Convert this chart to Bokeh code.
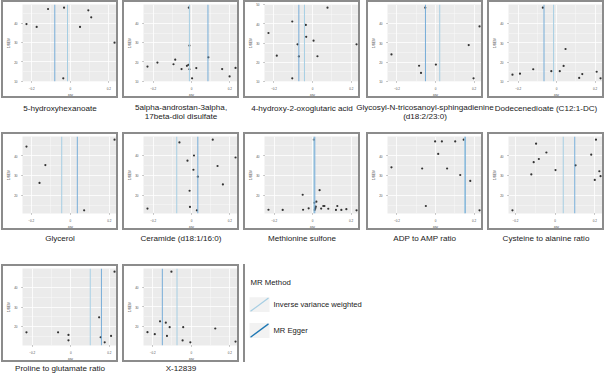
from bokeh.plotting import figure
from bokeh.layouts import column, row
from bokeh.models import Range1d, Span, Label, Spacer
from bokeh.embed import file_html
from bokeh.resources import INLINE

# ---------------- data ----------------
panel_titles = [
    ["5-hydroxyhexanoate"],
    ["5alpha-androstan-3alpha,", "17beta-diol disulfate"],
    ["4-hydroxy-2-oxoglutaric acid"],
    ["Glycosyl-N-tricosanoyl-sphingadienine", "(d18:2/23:0)"],
    ["Dodecenedioate (C12:1-DC)"],
    ["Glycerol"],
    ["Ceramide (d18:1/16:0)"],
    ["Methionine sulfone"],
    ["ADP to AMP ratio"],
    ["Cysteine to alanine ratio"],
    ["Proline to glutamate ratio"],
    ["X-12839"],
]

ivw_est = [-0.014, -0.011, -0.042, 0.022, -0.016, -0.044, -0.077, 0.006, 0.152, 0.041, 0.101, -0.074]
egger_est = [-0.080, 0.086, -0.071, -0.052, -0.066, 0.036, 0.033, 0.011, 0.154, 0.099, 0.159, -0.150]

beta_1 = [-0.227, -0.174, -0.115, -0.032, 0.094, 0.109, 0.051, 0.230, -0.036]
invse_1 = [39.7, 38.2, 47.5, 48.2, 46.8, 43.2, 38.2, 30.0, 11.5]

beta_2 = [-0.014, -0.011, 0.088, -0.085, -0.178, -0.230, -0.094, -0.052, -0.024, -0.016, -0.011, 0.025, 0.003, 0.160, 0.199, 0.230]
invse_2 = [48.2, 28.5, 22.4, 21.2, 19.7, 17.6, 18.8, 16.3, 18.0, 18.5, 16.2, 16.8, 11.5, 16.3, 12.5, 16.9]

beta_3 = [0.077, -0.105, -0.035, -0.228, -0.033, 0.005, -0.078, 0.227, -0.185, -0.071, 0.025, -0.105]
invse_3 = [48.4, 41.2, 39.4, 35.2, 33.2, 31.2, 29.3, 29.3, 23.4, 23.0, 23.1, 11.6]

beta_4 = [-0.053, 0.228, 0.172, -0.228, -0.085, 0.002, -0.075, 0.197]
invse_4 = [48.2, 38.5, 28.8, 24.0, 18.1, 18.7, 14.4, 11.6]

beta_5 = [-0.072, 0.046, 0.036, -0.122, -0.028, 0.016, -0.191, -0.230, 0.133, 0.208, 0.117, 0.228]
invse_5 = [48.2, 26.8, 18.0, 16.3, 15.3, 15.3, 14.0, 13.5, 13.8, 15.0, 11.8, 11.6]

beta_6 = [-0.225, -0.128, -0.158, 0.227, 0.071]
invse_6 = [44.7, 35.3, 26.2, 48.2, 12.3]

beta_7 = [-0.063, 0.111, 0.013, -0.021, 0.230, 0.136, 0.010, 0.033, 0.164, -0.010, -0.230, -0.008, 0.028]
invse_7 = [46.6, 48.0, 40.0, 37.4, 39.0, 34.7, 32.8, 29.3, 25.4, 22.2, 13.2, 14.0, 12.3]

beta_8 = [0.006, 0.036, -0.052, 0.019, 0.008, -0.230, -0.156, -0.050, -0.021, 0.014, 0.013, 0.010, 0.016, 0.044, 0.055, 0.061, 0.081, 0.128, 0.121, 0.149, 0.175, 0.228]
invse_8 = [48.2, 22.6, 20.3, 16.8, 16.2, 12.7, 12.6, 12.7, 13.4, 13.7, 13.2, 12.6, 14.3, 13.3, 14.6, 14.6, 13.2, 14.6, 12.6, 12.6, 13.0, 12.4]

beta_9 = [-0.002, 0.033, 0.102, 0.146, 0.014, -0.228, -0.069, 0.060, 0.128, 0.180, -0.050, 0.228]
invse_9 = [47.3, 47.3, 47.3, 48.2, 41.0, 34.2, 33.6, 33.6, 30.3, 27.3, 14.6, 12.4]

beta_10 = [0.206, -0.096, -0.044, 0.182, -0.082, -0.108, 0.002, 0.103, -0.120, 0.223, 0.229, 0.200, -0.215]
invse_10 = [48.2, 46.2, 41.7, 40.6, 38.4, 36.8, 32.8, 35.2, 30.6, 32.2, 29.7, 27.8, 12.4]

beta_11 = [0.227, 0.147, -0.230, -0.066, -0.012, -0.012, 0.155, 0.176, 0.209]
invse_11 = [48.1, 24.7, 17.0, 17.0, 15.7, 12.9, 14.5, 11.9, 15.2]

beta_12 = [-0.103, -0.162, -0.132, -0.112, -0.227, -0.189, -0.126, -0.042, -0.045, -0.005, 0.124, 0.229]
invse_12 = [48.1, 22.6, 21.9, 19.6, 17.0, 16.0, 15.1, 19.6, 12.8, 11.8, 18.9, 12.2]

betas = [beta_1, beta_2, beta_3, beta_4, beta_5, beta_6, beta_7, beta_8, beta_9, beta_10, beta_11, beta_12]
invses = [invse_1, invse_2, invse_3, invse_4, invse_5, invse_6, invse_7, invse_8, invse_9, invse_10, invse_11, invse_12]

legend_title = "MR Method"
methods = ["Inverse variance weighted", "MR Egger"]
method_colors = ["#a6cee3", "#1f78b4"]
panel_line_colors = ["#a6cee3", "#6aa6d6"]

# ---------------- styling ----------------
FONT = "Liberation Sans"
PW, PH = 117, 98
BOX = "2px solid #8c8c8c"


def make_panel(beta, invse, ivw, egger):
    xs = beta + [ivw, egger]
    x0, x1 = min(xs), max(xs)
    xp = 0.045 * (x1 - x0)
    y0, y1 = min(invse), max(invse)
    yp = 0.045 * (y1 - y0)
    p = figure(width=PW, height=PH, x_range=Range1d(x0 - xp, x1 + xp),
               y_range=Range1d(y0 - yp, y1 + yp),
               output_backend="svg", toolbar_location=None,
               min_border_left=1, min_border_right=2, min_border_top=2, min_border_bottom=0,
               background_fill_color="#ebebeb", border_fill_color="white",
               outline_line_color=None, styles={"border": BOX})
    p.xaxis.axis_label = "βIV"
    p.yaxis.axis_label = "1/SEIV"
    p.xaxis.ticker.desired_num_ticks = 3
    p.yaxis.ticker.desired_num_ticks = 4
    for ax in (p.xaxis[0], p.yaxis[0]):
        ax.ticker.num_minor_ticks = 2
        ax.axis_line_color = None
        ax.major_tick_in = 0
        ax.major_tick_out = 1
        ax.major_tick_line_color = "#333333"
        ax.major_tick_line_width = 0.5
        ax.minor_tick_line_color = None
        ax.major_label_text_font_size = "3px"
        ax.major_label_text_color = "#4d4d4d"
        ax.major_label_text_font = FONT
        ax.major_label_standoff = 1
        ax.axis_label_text_font_size = "3.2px"
        ax.axis_label_text_font = FONT
        ax.axis_label_text_font_style = "normal"
        ax.axis_label_text_color = "#1a1a1a"
        ax.axis_label_standoff = 1
    for g in (p.xgrid[0], p.ygrid[0]):
        g.grid_line_color = "white"
        g.grid_line_width = 0.7
        g.minor_grid_line_color = "white"
        g.minor_grid_line_width = 0.35
    p.add_layout(Span(location=ivw, dimension="height", line_color=panel_line_colors[0], line_width=1))
    p.add_layout(Span(location=egger, dimension="height", line_color=panel_line_colors[1], line_width=0.9))
    p.scatter(beta, invse, size=2.2, fill_color="#333333", line_color=None)
    return p


panels = [make_panel(betas[i], invses[i], ivw_est[i], egger_est[i]) for i in range(12)]

col_left = [1, 122, 243, 366, 487]
gaps = [4, 4, 6, 4]


def title_strip(idx_list, height, first_offset):
    t = figure(width=606, height=height, x_range=Range1d(0, 606), y_range=Range1d(height, 0),
               x_axis_type=None, y_axis_type=None, output_backend="svg", toolbar_location=None,
               min_border=0, outline_line_color=None, background_fill_color="white",
               border_fill_color="white")
    t.grid.visible = False
    for c, i in enumerate(idx_list):
        lines = panel_titles[i]
        cx = col_left[c] + PW / 2
        if len(lines) == 1:
            offs = [first_offset]
        else:
            offs = [first_offset - 1.5, first_offset + 7.5]
        for line, oy in zip(lines, offs):
            t.add_layout(Label(x=cx, y=oy, text=line, text_align="center", text_baseline="middle",
                               text_font=FONT, text_font_size="8.1px", text_color="#1a1a1a"))
    return t


def panel_row(figs):
    kids = [Spacer(width=1, height=PH)]
    for k, f in enumerate(figs):
        kids.append(f)
        if k < len(figs) - 1:
            kids.append(Spacer(width=gaps[k], height=PH))
    return row(kids, spacing=0)


# legend
leg = figure(width=363, height=PH, x_range=Range1d(0, 363), y_range=Range1d(PH, 0),
             x_axis_type=None, y_axis_type=None, output_backend="svg", toolbar_location=None,
             min_border=0, outline_line_color=None, background_fill_color="white",
             border_fill_color="white", styles={"border-left": BOX})
leg.grid.visible = False
leg.add_layout(Label(x=5, y=20, text=legend_title, text_baseline="middle", text_font=FONT,
                     text_font_size="7.8px", text_color="#1a1a1a"))
key_top = [39 + 33 * k for k in range(len(methods))]
leg.quad(left=[4] * len(methods), right=[24] * len(methods), top=key_top,
         bottom=[t + 19 for t in key_top], fill_color="#f2f2f2", line_color=None)
leg.segment(x0=[5] * len(methods), y0=[t + 18 for t in key_top], x1=[23] * len(methods),
            y1=[t + 1 for t in key_top], line_color=method_colors, line_width=1.3)
for k, m in enumerate(methods):
    leg.add_layout(Label(x=28, y=key_top[k] + 9, text=m, text_baseline="middle", text_font=FONT,
                         text_font_size="7.6px", text_color="#1a1a1a"))

row1 = panel_row(panels[0:5])
row2 = panel_row(panels[5:10])
row3 = row([Spacer(width=1, height=PH), panels[10], Spacer(width=4, height=PH), panels[11],
            Spacer(width=4, height=PH), leg], spacing=0)

layout = column([
    row1, title_strip([0, 1, 2, 3, 4], 34, 10),
    row2, title_strip([5, 6, 7, 8, 9], 34, 8),
    row3, title_strip([10, 11], 12, 6),
], spacing=0)

open("out.html", "w").write(file_html(layout, INLINE))
